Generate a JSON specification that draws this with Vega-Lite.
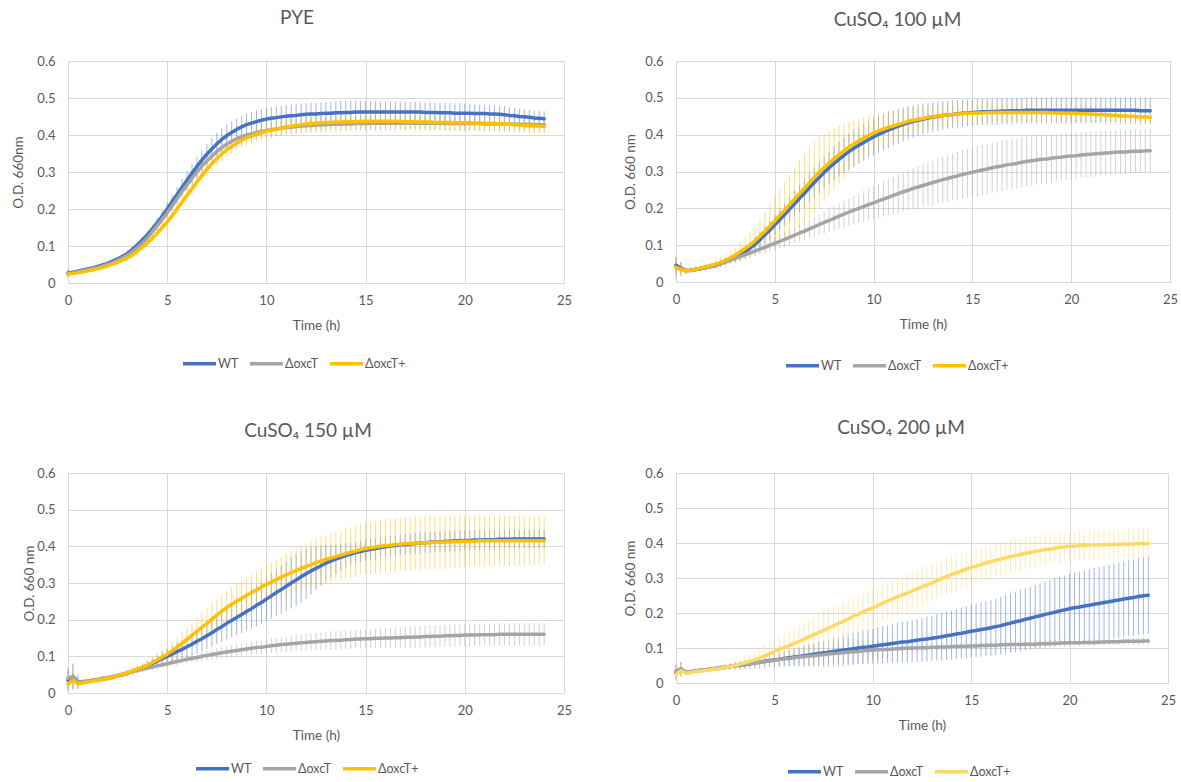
{
"$schema": "https://vega.github.io/schema/vega-lite/v6.json",
"background": "white",
"padding": {"left": 10, "top": 8, "right": 2, "bottom": 2},
"config": {
 "font": "Lato",
 "view": {"stroke": "#D9D9D9", "strokeWidth": 1},
 "axis": {"grid": true, "gridColor": "#D9D9D9", "gridWidth": 1, "domain": false, "ticks": false, "tickSize": 0, "labelColor": "#595959", "labelFontSize": 13, "labelFont": "Lato", "titleColor": "#595959", "titleFont": "Lato", "titleFontSize": 13.5, "titleFontWeight": "normal", "labelFlush": false, "labelPadding": 13},
 "axisX": {"titlePadding": 11, "labelPadding": 11},
 "axisY": {"titlePadding": 7.5},
 "title": {"font": "Lato", "fontSize": 19, "fontWeight": "normal", "color": "#595959"},
 "legend": {"labelFont": "Lato", "labelFontSize": 12.5, "labelColor": "#595959", "symbolType": "stroke", "symbolStrokeWidth": 3.5, "symbolSize": 1089, "labelOffset": 0, "columnPadding": 4, "symbolOpacity": 1, "direction": "horizontal", "orient": "none"}
},
"datasets": {
"pye": [
{"s":"WT","t":0,"y":0.027,"e":0.01},{"s":"WT","t":0.25,"y":0.029,"e":0.005},{"s":"WT","t":0.5,"y":0.032,"e":0.005},{"s":"WT","t":0.75,"y":0.035,"e":0.005},
{"s":"WT","t":1,"y":0.038,"e":0.005},{"s":"WT","t":1.25,"y":0.041,"e":0.005},{"s":"WT","t":1.5,"y":0.045,"e":0.005},{"s":"WT","t":1.75,"y":0.049,"e":0.005},
{"s":"WT","t":2,"y":0.053,"e":0.005},{"s":"WT","t":2.25,"y":0.059,"e":0.005},{"s":"WT","t":2.5,"y":0.065,"e":0.005},{"s":"WT","t":2.75,"y":0.072,"e":0.006},
{"s":"WT","t":3,"y":0.08,"e":0.008},{"s":"WT","t":3.25,"y":0.091,"e":0.008},{"s":"WT","t":3.5,"y":0.103,"e":0.008},{"s":"WT","t":3.75,"y":0.116,"e":0.01},
{"s":"WT","t":4,"y":0.13,"e":0.012},{"s":"WT","t":4.25,"y":0.146,"e":0.012},{"s":"WT","t":4.5,"y":0.163,"e":0.014},{"s":"WT","t":4.75,"y":0.181,"e":0.015},
{"s":"WT","t":5,"y":0.2,"e":0.018},{"s":"WT","t":5.25,"y":0.22,"e":0.018},{"s":"WT","t":5.5,"y":0.239,"e":0.02},{"s":"WT","t":5.75,"y":0.259,"e":0.022},
{"s":"WT","t":6,"y":0.278,"e":0.024},{"s":"WT","t":6.25,"y":0.297,"e":0.025},{"s":"WT","t":6.5,"y":0.315,"e":0.026},{"s":"WT","t":6.75,"y":0.332,"e":0.027},
{"s":"WT","t":7,"y":0.348,"e":0.028},{"s":"WT","t":7.25,"y":0.362,"e":0.03},{"s":"WT","t":7.5,"y":0.376,"e":0.03},{"s":"WT","t":7.75,"y":0.388,"e":0.03},
{"s":"WT","t":8,"y":0.398,"e":0.03},{"s":"WT","t":8.25,"y":0.407,"e":0.03},{"s":"WT","t":8.5,"y":0.415,"e":0.03},{"s":"WT","t":8.75,"y":0.422,"e":0.03},
{"s":"WT","t":9,"y":0.428,"e":0.03},{"s":"WT","t":9.25,"y":0.432,"e":0.03},{"s":"WT","t":9.5,"y":0.436,"e":0.03},{"s":"WT","t":9.75,"y":0.44,"e":0.03},
{"s":"WT","t":10,"y":0.443,"e":0.03},{"s":"WT","t":10.25,"y":0.445,"e":0.03},{"s":"WT","t":10.5,"y":0.447,"e":0.03},{"s":"WT","t":10.75,"y":0.449,"e":0.03},
{"s":"WT","t":11,"y":0.451,"e":0.03},{"s":"WT","t":11.25,"y":0.452,"e":0.03},{"s":"WT","t":11.5,"y":0.453,"e":0.03},{"s":"WT","t":11.75,"y":0.455,"e":0.03},
{"s":"WT","t":12,"y":0.456,"e":0.03},{"s":"WT","t":12.25,"y":0.457,"e":0.03},{"s":"WT","t":12.5,"y":0.457,"e":0.03},{"s":"WT","t":12.75,"y":0.458,"e":0.03},
{"s":"WT","t":13,"y":0.459,"e":0.03},{"s":"WT","t":13.25,"y":0.459,"e":0.031},{"s":"WT","t":13.5,"y":0.46,"e":0.031},{"s":"WT","t":13.75,"y":0.46,"e":0.032},
{"s":"WT","t":14,"y":0.461,"e":0.032},{"s":"WT","t":14.25,"y":0.461,"e":0.031},{"s":"WT","t":14.5,"y":0.462,"e":0.031},{"s":"WT","t":14.75,"y":0.462,"e":0.03},
{"s":"WT","t":15,"y":0.462,"e":0.03},{"s":"WT","t":15.25,"y":0.462,"e":0.029},{"s":"WT","t":15.5,"y":0.462,"e":0.029},{"s":"WT","t":15.75,"y":0.462,"e":0.028},
{"s":"WT","t":16,"y":0.462,"e":0.028},{"s":"WT","t":16.25,"y":0.462,"e":0.028},{"s":"WT","t":16.5,"y":0.462,"e":0.028},{"s":"WT","t":16.75,"y":0.462,"e":0.028},
{"s":"WT","t":17,"y":0.462,"e":0.028},{"s":"WT","t":17.25,"y":0.462,"e":0.027},{"s":"WT","t":17.5,"y":0.462,"e":0.027},{"s":"WT","t":17.75,"y":0.462,"e":0.027},
{"s":"WT","t":18,"y":0.461,"e":0.027},{"s":"WT","t":18.25,"y":0.461,"e":0.027},{"s":"WT","t":18.5,"y":0.461,"e":0.027},{"s":"WT","t":18.75,"y":0.46,"e":0.027},
{"s":"WT","t":19,"y":0.46,"e":0.027},{"s":"WT","t":19.25,"y":0.46,"e":0.027},{"s":"WT","t":19.5,"y":0.459,"e":0.027},{"s":"WT","t":19.75,"y":0.459,"e":0.027},
{"s":"WT","t":20,"y":0.459,"e":0.026},{"s":"WT","t":20.25,"y":0.459,"e":0.025},{"s":"WT","t":20.5,"y":0.458,"e":0.025},{"s":"WT","t":20.75,"y":0.458,"e":0.024},
{"s":"WT","t":21,"y":0.458,"e":0.024},{"s":"WT","t":21.25,"y":0.457,"e":0.024},{"s":"WT","t":21.5,"y":0.457,"e":0.024},{"s":"WT","t":21.75,"y":0.456,"e":0.023},
{"s":"WT","t":22,"y":0.455,"e":0.023},{"s":"WT","t":22.25,"y":0.453,"e":0.022},{"s":"WT","t":22.5,"y":0.452,"e":0.021},{"s":"WT","t":22.75,"y":0.45,"e":0.021},
{"s":"WT","t":23,"y":0.449,"e":0.02},{"s":"WT","t":23.25,"y":0.448,"e":0.02},{"s":"WT","t":23.5,"y":0.446,"e":0.02},{"s":"WT","t":23.75,"y":0.445,"e":0.02},
{"s":"WT","t":24,"y":0.444,"e":0.02},
{"s":"ΔoxcT","t":0,"y":0.025,"e":0.01},{"s":"ΔoxcT","t":0.25,"y":0.027,"e":0.005},{"s":"ΔoxcT","t":0.5,"y":0.03,"e":0.005},{"s":"ΔoxcT","t":0.75,"y":0.033,"e":0.005},
{"s":"ΔoxcT","t":1,"y":0.036,"e":0.005},{"s":"ΔoxcT","t":1.25,"y":0.039,"e":0.005},{"s":"ΔoxcT","t":1.5,"y":0.042,"e":0.005},{"s":"ΔoxcT","t":1.75,"y":0.046,"e":0.005},
{"s":"ΔoxcT","t":2,"y":0.05,"e":0.005},{"s":"ΔoxcT","t":2.25,"y":0.055,"e":0.005},{"s":"ΔoxcT","t":2.5,"y":0.061,"e":0.005},{"s":"ΔoxcT","t":2.75,"y":0.068,"e":0.005},
{"s":"ΔoxcT","t":3,"y":0.075,"e":0.005},{"s":"ΔoxcT","t":3.25,"y":0.085,"e":0.008},{"s":"ΔoxcT","t":3.5,"y":0.096,"e":0.008},{"s":"ΔoxcT","t":3.75,"y":0.108,"e":0.009},
{"s":"ΔoxcT","t":4,"y":0.122,"e":0.01},{"s":"ΔoxcT","t":4.25,"y":0.138,"e":0.01},{"s":"ΔoxcT","t":4.5,"y":0.155,"e":0.011},{"s":"ΔoxcT","t":4.75,"y":0.172,"e":0.012},
{"s":"ΔoxcT","t":5,"y":0.19,"e":0.013},{"s":"ΔoxcT","t":5.25,"y":0.209,"e":0.014},{"s":"ΔoxcT","t":5.5,"y":0.228,"e":0.015},{"s":"ΔoxcT","t":5.75,"y":0.247,"e":0.015},
{"s":"ΔoxcT","t":6,"y":0.265,"e":0.016},{"s":"ΔoxcT","t":6.25,"y":0.283,"e":0.016},{"s":"ΔoxcT","t":6.5,"y":0.3,"e":0.017},{"s":"ΔoxcT","t":6.75,"y":0.316,"e":0.017},
{"s":"ΔoxcT","t":7,"y":0.33,"e":0.018},{"s":"ΔoxcT","t":7.25,"y":0.343,"e":0.018},{"s":"ΔoxcT","t":7.5,"y":0.355,"e":0.019},{"s":"ΔoxcT","t":7.75,"y":0.366,"e":0.019},
{"s":"ΔoxcT","t":8,"y":0.375,"e":0.02},{"s":"ΔoxcT","t":8.25,"y":0.383,"e":0.02},{"s":"ΔoxcT","t":8.5,"y":0.39,"e":0.02},{"s":"ΔoxcT","t":8.75,"y":0.395,"e":0.02},
{"s":"ΔoxcT","t":9,"y":0.4,"e":0.02},{"s":"ΔoxcT","t":9.25,"y":0.403,"e":0.02},{"s":"ΔoxcT","t":9.5,"y":0.407,"e":0.02},{"s":"ΔoxcT","t":9.75,"y":0.41,"e":0.02},
{"s":"ΔoxcT","t":10,"y":0.412,"e":0.02},{"s":"ΔoxcT","t":10.25,"y":0.414,"e":0.02},{"s":"ΔoxcT","t":10.5,"y":0.416,"e":0.02},{"s":"ΔoxcT","t":10.75,"y":0.418,"e":0.02},
{"s":"ΔoxcT","t":11,"y":0.42,"e":0.02},{"s":"ΔoxcT","t":11.25,"y":0.421,"e":0.02},{"s":"ΔoxcT","t":11.5,"y":0.423,"e":0.02},{"s":"ΔoxcT","t":11.75,"y":0.424,"e":0.02},
{"s":"ΔoxcT","t":12,"y":0.425,"e":0.02},{"s":"ΔoxcT","t":12.25,"y":0.426,"e":0.02},{"s":"ΔoxcT","t":12.5,"y":0.427,"e":0.02},{"s":"ΔoxcT","t":12.75,"y":0.427,"e":0.02},
{"s":"ΔoxcT","t":13,"y":0.428,"e":0.02},{"s":"ΔoxcT","t":13.25,"y":0.429,"e":0.02},{"s":"ΔoxcT","t":13.5,"y":0.429,"e":0.02},{"s":"ΔoxcT","t":13.75,"y":0.43,"e":0.02},
{"s":"ΔoxcT","t":14,"y":0.43,"e":0.02},{"s":"ΔoxcT","t":14.25,"y":0.43,"e":0.02},{"s":"ΔoxcT","t":14.5,"y":0.431,"e":0.02},{"s":"ΔoxcT","t":14.75,"y":0.431,"e":0.02},
{"s":"ΔoxcT","t":15,"y":0.431,"e":0.02},{"s":"ΔoxcT","t":15.25,"y":0.431,"e":0.02},{"s":"ΔoxcT","t":15.5,"y":0.432,"e":0.02},{"s":"ΔoxcT","t":15.75,"y":0.432,"e":0.02},
{"s":"ΔoxcT","t":16,"y":0.432,"e":0.02},{"s":"ΔoxcT","t":16.25,"y":0.432,"e":0.02},{"s":"ΔoxcT","t":16.5,"y":0.432,"e":0.02},{"s":"ΔoxcT","t":16.75,"y":0.432,"e":0.02},
{"s":"ΔoxcT","t":17,"y":0.432,"e":0.02},{"s":"ΔoxcT","t":17.25,"y":0.432,"e":0.02},{"s":"ΔoxcT","t":17.5,"y":0.432,"e":0.02},{"s":"ΔoxcT","t":17.75,"y":0.432,"e":0.02},
{"s":"ΔoxcT","t":18,"y":0.432,"e":0.02},{"s":"ΔoxcT","t":18.25,"y":0.432,"e":0.02},{"s":"ΔoxcT","t":18.5,"y":0.432,"e":0.02},{"s":"ΔoxcT","t":18.75,"y":0.432,"e":0.02},
{"s":"ΔoxcT","t":19,"y":0.431,"e":0.02},{"s":"ΔoxcT","t":19.25,"y":0.431,"e":0.02},{"s":"ΔoxcT","t":19.5,"y":0.431,"e":0.02},{"s":"ΔoxcT","t":19.75,"y":0.431,"e":0.02},
{"s":"ΔoxcT","t":20,"y":0.431,"e":0.02},{"s":"ΔoxcT","t":20.25,"y":0.431,"e":0.02},{"s":"ΔoxcT","t":20.5,"y":0.431,"e":0.02},{"s":"ΔoxcT","t":20.75,"y":0.431,"e":0.02},
{"s":"ΔoxcT","t":21,"y":0.43,"e":0.02},{"s":"ΔoxcT","t":21.25,"y":0.43,"e":0.02},{"s":"ΔoxcT","t":21.5,"y":0.43,"e":0.02},{"s":"ΔoxcT","t":21.75,"y":0.43,"e":0.02},
{"s":"ΔoxcT","t":22,"y":0.43,"e":0.02},{"s":"ΔoxcT","t":22.25,"y":0.43,"e":0.02},{"s":"ΔoxcT","t":22.5,"y":0.43,"e":0.02},{"s":"ΔoxcT","t":22.75,"y":0.429,"e":0.02},
{"s":"ΔoxcT","t":23,"y":0.429,"e":0.02},{"s":"ΔoxcT","t":23.25,"y":0.429,"e":0.02},{"s":"ΔoxcT","t":23.5,"y":0.428,"e":0.02},{"s":"ΔoxcT","t":23.75,"y":0.428,"e":0.02},
{"s":"ΔoxcT","t":24,"y":0.428,"e":0.02},
{"s":"ΔoxcT+","t":0,"y":0.024,"e":0.012},{"s":"ΔoxcT+","t":0.25,"y":0.026,"e":0.005},{"s":"ΔoxcT+","t":0.5,"y":0.028,"e":0.005},{"s":"ΔoxcT+","t":0.75,"y":0.03,"e":0.005},
{"s":"ΔoxcT+","t":1,"y":0.033,"e":0.005},{"s":"ΔoxcT+","t":1.25,"y":0.036,"e":0.005},{"s":"ΔoxcT+","t":1.5,"y":0.039,"e":0.005},{"s":"ΔoxcT+","t":1.75,"y":0.042,"e":0.005},
{"s":"ΔoxcT+","t":2,"y":0.046,"e":0.005},{"s":"ΔoxcT+","t":2.25,"y":0.051,"e":0.005},{"s":"ΔoxcT+","t":2.5,"y":0.056,"e":0.005},{"s":"ΔoxcT+","t":2.75,"y":0.062,"e":0.005},
{"s":"ΔoxcT+","t":3,"y":0.068,"e":0.005},{"s":"ΔoxcT+","t":3.25,"y":0.076,"e":0.008},{"s":"ΔoxcT+","t":3.5,"y":0.086,"e":0.008},{"s":"ΔoxcT+","t":3.75,"y":0.097,"e":0.009},
{"s":"ΔoxcT+","t":4,"y":0.108,"e":0.01},{"s":"ΔoxcT+","t":4.25,"y":0.121,"e":0.01},{"s":"ΔoxcT+","t":4.5,"y":0.135,"e":0.011},{"s":"ΔoxcT+","t":4.75,"y":0.15,"e":0.012},
{"s":"ΔoxcT+","t":5,"y":0.165,"e":0.013},{"s":"ΔoxcT+","t":5.25,"y":0.182,"e":0.014},{"s":"ΔoxcT+","t":5.5,"y":0.2,"e":0.015},{"s":"ΔoxcT+","t":5.75,"y":0.219,"e":0.016},
{"s":"ΔoxcT+","t":6,"y":0.237,"e":0.016},{"s":"ΔoxcT+","t":6.25,"y":0.255,"e":0.017},{"s":"ΔoxcT+","t":6.5,"y":0.273,"e":0.017},{"s":"ΔoxcT+","t":6.75,"y":0.29,"e":0.018},
{"s":"ΔoxcT+","t":7,"y":0.307,"e":0.018},{"s":"ΔoxcT+","t":7.25,"y":0.322,"e":0.019},{"s":"ΔoxcT+","t":7.5,"y":0.336,"e":0.019},{"s":"ΔoxcT+","t":7.75,"y":0.349,"e":0.02},
{"s":"ΔoxcT+","t":8,"y":0.36,"e":0.02},{"s":"ΔoxcT+","t":8.25,"y":0.369,"e":0.02},{"s":"ΔoxcT+","t":8.5,"y":0.378,"e":0.02},{"s":"ΔoxcT+","t":8.75,"y":0.386,"e":0.02},
{"s":"ΔoxcT+","t":9,"y":0.392,"e":0.02},{"s":"ΔoxcT+","t":9.25,"y":0.397,"e":0.02},{"s":"ΔoxcT+","t":9.5,"y":0.402,"e":0.02},{"s":"ΔoxcT+","t":9.75,"y":0.406,"e":0.02},
{"s":"ΔoxcT+","t":10,"y":0.41,"e":0.02},{"s":"ΔoxcT+","t":10.25,"y":0.413,"e":0.02},{"s":"ΔoxcT+","t":10.5,"y":0.416,"e":0.02},{"s":"ΔoxcT+","t":10.75,"y":0.419,"e":0.02},
{"s":"ΔoxcT+","t":11,"y":0.422,"e":0.02},{"s":"ΔoxcT+","t":11.25,"y":0.424,"e":0.02},{"s":"ΔoxcT+","t":11.5,"y":0.426,"e":0.02},{"s":"ΔoxcT+","t":11.75,"y":0.428,"e":0.02},
{"s":"ΔoxcT+","t":12,"y":0.43,"e":0.02},{"s":"ΔoxcT+","t":12.25,"y":0.431,"e":0.02},{"s":"ΔoxcT+","t":12.5,"y":0.432,"e":0.02},{"s":"ΔoxcT+","t":12.75,"y":0.433,"e":0.02},
{"s":"ΔoxcT+","t":13,"y":0.434,"e":0.02},{"s":"ΔoxcT+","t":13.25,"y":0.434,"e":0.02},{"s":"ΔoxcT+","t":13.5,"y":0.435,"e":0.02},{"s":"ΔoxcT+","t":13.75,"y":0.435,"e":0.02},
{"s":"ΔoxcT+","t":14,"y":0.436,"e":0.02},{"s":"ΔoxcT+","t":14.25,"y":0.436,"e":0.02},{"s":"ΔoxcT+","t":14.5,"y":0.436,"e":0.02},{"s":"ΔoxcT+","t":14.75,"y":0.437,"e":0.02},
{"s":"ΔoxcT+","t":15,"y":0.437,"e":0.02},{"s":"ΔoxcT+","t":15.25,"y":0.437,"e":0.02},{"s":"ΔoxcT+","t":15.5,"y":0.437,"e":0.02},{"s":"ΔoxcT+","t":15.75,"y":0.437,"e":0.02},
{"s":"ΔoxcT+","t":16,"y":0.437,"e":0.02},{"s":"ΔoxcT+","t":16.25,"y":0.437,"e":0.02},{"s":"ΔoxcT+","t":16.5,"y":0.437,"e":0.02},{"s":"ΔoxcT+","t":16.75,"y":0.437,"e":0.02},
{"s":"ΔoxcT+","t":17,"y":0.436,"e":0.02},{"s":"ΔoxcT+","t":17.25,"y":0.436,"e":0.02},{"s":"ΔoxcT+","t":17.5,"y":0.436,"e":0.02},{"s":"ΔoxcT+","t":17.75,"y":0.435,"e":0.02},
{"s":"ΔoxcT+","t":18,"y":0.435,"e":0.021},{"s":"ΔoxcT+","t":18.25,"y":0.435,"e":0.021},{"s":"ΔoxcT+","t":18.5,"y":0.434,"e":0.021},{"s":"ΔoxcT+","t":18.75,"y":0.434,"e":0.021},
{"s":"ΔoxcT+","t":19,"y":0.434,"e":0.022},{"s":"ΔoxcT+","t":19.25,"y":0.434,"e":0.022},{"s":"ΔoxcT+","t":19.5,"y":0.433,"e":0.022},{"s":"ΔoxcT+","t":19.75,"y":0.433,"e":0.022},
{"s":"ΔoxcT+","t":20,"y":0.433,"e":0.022},{"s":"ΔoxcT+","t":20.25,"y":0.433,"e":0.022},{"s":"ΔoxcT+","t":20.5,"y":0.432,"e":0.022},{"s":"ΔoxcT+","t":20.75,"y":0.432,"e":0.022},
{"s":"ΔoxcT+","t":21,"y":0.432,"e":0.021},{"s":"ΔoxcT+","t":21.25,"y":0.431,"e":0.021},{"s":"ΔoxcT+","t":21.5,"y":0.431,"e":0.021},{"s":"ΔoxcT+","t":21.75,"y":0.43,"e":0.021},
{"s":"ΔoxcT+","t":22,"y":0.43,"e":0.02},{"s":"ΔoxcT+","t":22.25,"y":0.429,"e":0.02},{"s":"ΔoxcT+","t":22.5,"y":0.428,"e":0.02},{"s":"ΔoxcT+","t":22.75,"y":0.427,"e":0.02},
{"s":"ΔoxcT+","t":23,"y":0.426,"e":0.02},{"s":"ΔoxcT+","t":23.25,"y":0.425,"e":0.02},{"s":"ΔoxcT+","t":23.5,"y":0.424,"e":0.02},{"s":"ΔoxcT+","t":23.75,"y":0.424,"e":0.02},
{"s":"ΔoxcT+","t":24,"y":0.423,"e":0.02}
],
"c100": [
{"s":"WT","t":0,"y":0.045,"e":0.02},{"s":"WT","t":0.25,"y":0.038,"e":0.015},{"s":"WT","t":0.5,"y":0.031,"e":0.005},{"s":"WT","t":0.75,"y":0.032,"e":0.005},
{"s":"WT","t":1,"y":0.034,"e":0.005},{"s":"WT","t":1.25,"y":0.036,"e":0.005},{"s":"WT","t":1.5,"y":0.039,"e":0.005},{"s":"WT","t":1.75,"y":0.042,"e":0.005},
{"s":"WT","t":2,"y":0.045,"e":0.008},{"s":"WT","t":2.25,"y":0.05,"e":0.009},{"s":"WT","t":2.5,"y":0.055,"e":0.01},{"s":"WT","t":2.75,"y":0.06,"e":0.01},
{"s":"WT","t":3,"y":0.066,"e":0.012},{"s":"WT","t":3.25,"y":0.074,"e":0.013},{"s":"WT","t":3.5,"y":0.083,"e":0.014},{"s":"WT","t":3.75,"y":0.092,"e":0.015},
{"s":"WT","t":4,"y":0.102,"e":0.018},{"s":"WT","t":4.25,"y":0.115,"e":0.02},{"s":"WT","t":4.5,"y":0.128,"e":0.022},{"s":"WT","t":4.75,"y":0.141,"e":0.024},
{"s":"WT","t":5,"y":0.155,"e":0.026},{"s":"WT","t":5.25,"y":0.169,"e":0.028},{"s":"WT","t":5.5,"y":0.183,"e":0.03},{"s":"WT","t":5.75,"y":0.198,"e":0.032},
{"s":"WT","t":6,"y":0.212,"e":0.035},{"s":"WT","t":6.25,"y":0.227,"e":0.037},{"s":"WT","t":6.5,"y":0.241,"e":0.04},{"s":"WT","t":6.75,"y":0.256,"e":0.04},
{"s":"WT","t":7,"y":0.27,"e":0.042},{"s":"WT","t":7.25,"y":0.284,"e":0.043},{"s":"WT","t":7.5,"y":0.297,"e":0.044},{"s":"WT","t":7.75,"y":0.31,"e":0.045},
{"s":"WT","t":8,"y":0.322,"e":0.046},{"s":"WT","t":8.25,"y":0.333,"e":0.047},{"s":"WT","t":8.5,"y":0.344,"e":0.048},{"s":"WT","t":8.75,"y":0.354,"e":0.049},
{"s":"WT","t":9,"y":0.363,"e":0.05},{"s":"WT","t":9.25,"y":0.371,"e":0.05},{"s":"WT","t":9.5,"y":0.379,"e":0.05},{"s":"WT","t":9.75,"y":0.387,"e":0.05},
{"s":"WT","t":10,"y":0.394,"e":0.05},{"s":"WT","t":10.25,"y":0.401,"e":0.05},{"s":"WT","t":10.5,"y":0.407,"e":0.05},{"s":"WT","t":10.75,"y":0.413,"e":0.05},
{"s":"WT","t":11,"y":0.418,"e":0.048},{"s":"WT","t":11.25,"y":0.423,"e":0.047},{"s":"WT","t":11.5,"y":0.428,"e":0.046},{"s":"WT","t":11.75,"y":0.432,"e":0.045},
{"s":"WT","t":12,"y":0.436,"e":0.044},{"s":"WT","t":12.25,"y":0.439,"e":0.043},{"s":"WT","t":12.5,"y":0.442,"e":0.042},{"s":"WT","t":12.75,"y":0.445,"e":0.041},
{"s":"WT","t":13,"y":0.448,"e":0.04},{"s":"WT","t":13.25,"y":0.45,"e":0.04},{"s":"WT","t":13.5,"y":0.452,"e":0.039},{"s":"WT","t":13.75,"y":0.454,"e":0.038},
{"s":"WT","t":14,"y":0.455,"e":0.038},{"s":"WT","t":14.25,"y":0.457,"e":0.037},{"s":"WT","t":14.5,"y":0.458,"e":0.037},{"s":"WT","t":14.75,"y":0.459,"e":0.036},
{"s":"WT","t":15,"y":0.46,"e":0.036},{"s":"WT","t":15.25,"y":0.461,"e":0.036},{"s":"WT","t":15.5,"y":0.462,"e":0.036},{"s":"WT","t":15.75,"y":0.462,"e":0.036},
{"s":"WT","t":16,"y":0.463,"e":0.036},{"s":"WT","t":16.25,"y":0.463,"e":0.036},{"s":"WT","t":16.5,"y":0.464,"e":0.036},{"s":"WT","t":16.75,"y":0.464,"e":0.036},
{"s":"WT","t":17,"y":0.465,"e":0.035},{"s":"WT","t":17.25,"y":0.465,"e":0.035},{"s":"WT","t":17.5,"y":0.465,"e":0.035},{"s":"WT","t":17.75,"y":0.466,"e":0.035},
{"s":"WT","t":18,"y":0.466,"e":0.035},{"s":"WT","t":18.25,"y":0.466,"e":0.035},{"s":"WT","t":18.5,"y":0.466,"e":0.035},{"s":"WT","t":18.75,"y":0.466,"e":0.035},
{"s":"WT","t":19,"y":0.466,"e":0.035},{"s":"WT","t":19.25,"y":0.466,"e":0.035},{"s":"WT","t":19.5,"y":0.466,"e":0.035},{"s":"WT","t":19.75,"y":0.466,"e":0.035},
{"s":"WT","t":20,"y":0.466,"e":0.035},{"s":"WT","t":20.25,"y":0.466,"e":0.035},{"s":"WT","t":20.5,"y":0.466,"e":0.035},{"s":"WT","t":20.75,"y":0.466,"e":0.035},
{"s":"WT","t":21,"y":0.466,"e":0.035},{"s":"WT","t":21.25,"y":0.466,"e":0.035},{"s":"WT","t":21.5,"y":0.466,"e":0.035},{"s":"WT","t":21.75,"y":0.466,"e":0.035},
{"s":"WT","t":22,"y":0.466,"e":0.035},{"s":"WT","t":22.25,"y":0.466,"e":0.035},{"s":"WT","t":22.5,"y":0.466,"e":0.035},{"s":"WT","t":22.75,"y":0.466,"e":0.035},
{"s":"WT","t":23,"y":0.466,"e":0.035},{"s":"WT","t":23.25,"y":0.466,"e":0.035},{"s":"WT","t":23.5,"y":0.465,"e":0.035},{"s":"WT","t":23.75,"y":0.465,"e":0.035},
{"s":"WT","t":24,"y":0.465,"e":0.035},
{"s":"ΔoxcT","t":0,"y":0.04,"e":0.03},{"s":"ΔoxcT","t":0.25,"y":0.035,"e":0.02},{"s":"ΔoxcT","t":0.5,"y":0.03,"e":0.008},{"s":"ΔoxcT","t":0.75,"y":0.032,"e":0.008},
{"s":"ΔoxcT","t":1,"y":0.034,"e":0.008},{"s":"ΔoxcT","t":1.25,"y":0.037,"e":0.008},{"s":"ΔoxcT","t":1.5,"y":0.04,"e":0.008},{"s":"ΔoxcT","t":1.75,"y":0.043,"e":0.008},
{"s":"ΔoxcT","t":2,"y":0.047,"e":0.008},{"s":"ΔoxcT","t":2.25,"y":0.051,"e":0.008},{"s":"ΔoxcT","t":2.5,"y":0.055,"e":0.008},{"s":"ΔoxcT","t":2.75,"y":0.06,"e":0.008},
{"s":"ΔoxcT","t":3,"y":0.064,"e":0.01},{"s":"ΔoxcT","t":3.25,"y":0.069,"e":0.011},{"s":"ΔoxcT","t":3.5,"y":0.074,"e":0.012},{"s":"ΔoxcT","t":3.75,"y":0.079,"e":0.013},
{"s":"ΔoxcT","t":4,"y":0.084,"e":0.014},{"s":"ΔoxcT","t":4.25,"y":0.089,"e":0.015},{"s":"ΔoxcT","t":4.5,"y":0.094,"e":0.016},{"s":"ΔoxcT","t":4.75,"y":0.1,"e":0.017},
{"s":"ΔoxcT","t":5,"y":0.105,"e":0.018},{"s":"ΔoxcT","t":5.25,"y":0.11,"e":0.019},{"s":"ΔoxcT","t":5.5,"y":0.116,"e":0.02},{"s":"ΔoxcT","t":5.75,"y":0.121,"e":0.021},
{"s":"ΔoxcT","t":6,"y":0.127,"e":0.022},{"s":"ΔoxcT","t":6.25,"y":0.133,"e":0.023},{"s":"ΔoxcT","t":6.5,"y":0.138,"e":0.024},{"s":"ΔoxcT","t":6.75,"y":0.144,"e":0.025},
{"s":"ΔoxcT","t":7,"y":0.15,"e":0.027},{"s":"ΔoxcT","t":7.25,"y":0.156,"e":0.028},{"s":"ΔoxcT","t":7.5,"y":0.162,"e":0.03},{"s":"ΔoxcT","t":7.75,"y":0.167,"e":0.031},
{"s":"ΔoxcT","t":8,"y":0.173,"e":0.033},{"s":"ΔoxcT","t":8.25,"y":0.179,"e":0.034},{"s":"ΔoxcT","t":8.5,"y":0.184,"e":0.036},{"s":"ΔoxcT","t":8.75,"y":0.19,"e":0.037},
{"s":"ΔoxcT","t":9,"y":0.195,"e":0.039},{"s":"ΔoxcT","t":9.25,"y":0.2,"e":0.04},{"s":"ΔoxcT","t":9.5,"y":0.205,"e":0.042},{"s":"ΔoxcT","t":9.75,"y":0.21,"e":0.043},
{"s":"ΔoxcT","t":10,"y":0.215,"e":0.045},{"s":"ΔoxcT","t":10.25,"y":0.22,"e":0.046},{"s":"ΔoxcT","t":10.5,"y":0.225,"e":0.048},{"s":"ΔoxcT","t":10.75,"y":0.23,"e":0.049},
{"s":"ΔoxcT","t":11,"y":0.235,"e":0.05},{"s":"ΔoxcT","t":11.25,"y":0.24,"e":0.052},{"s":"ΔoxcT","t":11.5,"y":0.245,"e":0.053},{"s":"ΔoxcT","t":11.75,"y":0.249,"e":0.054},
{"s":"ΔoxcT","t":12,"y":0.254,"e":0.055},{"s":"ΔoxcT","t":12.25,"y":0.258,"e":0.057},{"s":"ΔoxcT","t":12.5,"y":0.262,"e":0.058},{"s":"ΔoxcT","t":12.75,"y":0.266,"e":0.059},
{"s":"ΔoxcT","t":13,"y":0.27,"e":0.06},{"s":"ΔoxcT","t":13.25,"y":0.274,"e":0.061},{"s":"ΔoxcT","t":13.5,"y":0.278,"e":0.062},{"s":"ΔoxcT","t":13.75,"y":0.281,"e":0.063},
{"s":"ΔoxcT","t":14,"y":0.285,"e":0.064},{"s":"ΔoxcT","t":14.25,"y":0.288,"e":0.065},{"s":"ΔoxcT","t":14.5,"y":0.292,"e":0.066},{"s":"ΔoxcT","t":14.75,"y":0.295,"e":0.067},
{"s":"ΔoxcT","t":15,"y":0.298,"e":0.068},{"s":"ΔoxcT","t":15.25,"y":0.301,"e":0.068},{"s":"ΔoxcT","t":15.5,"y":0.304,"e":0.068},{"s":"ΔoxcT","t":15.75,"y":0.307,"e":0.068},
{"s":"ΔoxcT","t":16,"y":0.31,"e":0.068},{"s":"ΔoxcT","t":16.25,"y":0.313,"e":0.068},{"s":"ΔoxcT","t":16.5,"y":0.315,"e":0.068},{"s":"ΔoxcT","t":16.75,"y":0.318,"e":0.068},
{"s":"ΔoxcT","t":17,"y":0.32,"e":0.068},{"s":"ΔoxcT","t":17.25,"y":0.322,"e":0.068},{"s":"ΔoxcT","t":17.5,"y":0.325,"e":0.068},{"s":"ΔoxcT","t":17.75,"y":0.327,"e":0.068},
{"s":"ΔoxcT","t":18,"y":0.329,"e":0.067},{"s":"ΔoxcT","t":18.25,"y":0.331,"e":0.067},{"s":"ΔoxcT","t":18.5,"y":0.333,"e":0.066},{"s":"ΔoxcT","t":18.75,"y":0.334,"e":0.066},
{"s":"ΔoxcT","t":19,"y":0.336,"e":0.065},{"s":"ΔoxcT","t":19.25,"y":0.338,"e":0.065},{"s":"ΔoxcT","t":19.5,"y":0.339,"e":0.064},{"s":"ΔoxcT","t":19.75,"y":0.341,"e":0.064},
{"s":"ΔoxcT","t":20,"y":0.342,"e":0.063},{"s":"ΔoxcT","t":20.25,"y":0.343,"e":0.063},{"s":"ΔoxcT","t":20.5,"y":0.345,"e":0.062},{"s":"ΔoxcT","t":20.75,"y":0.346,"e":0.062},
{"s":"ΔoxcT","t":21,"y":0.347,"e":0.062},{"s":"ΔoxcT","t":21.25,"y":0.348,"e":0.061},{"s":"ΔoxcT","t":21.5,"y":0.349,"e":0.061},{"s":"ΔoxcT","t":21.75,"y":0.35,"e":0.061},
{"s":"ΔoxcT","t":22,"y":0.351,"e":0.06},{"s":"ΔoxcT","t":22.25,"y":0.352,"e":0.06},{"s":"ΔoxcT","t":22.5,"y":0.353,"e":0.06},{"s":"ΔoxcT","t":22.75,"y":0.353,"e":0.06},
{"s":"ΔoxcT","t":23,"y":0.354,"e":0.059},{"s":"ΔoxcT","t":23.25,"y":0.355,"e":0.059},{"s":"ΔoxcT","t":23.5,"y":0.355,"e":0.058},{"s":"ΔoxcT","t":23.75,"y":0.356,"e":0.058},
{"s":"ΔoxcT","t":24,"y":0.356,"e":0.058},
{"s":"ΔoxcT+","t":0,"y":0.04,"e":0.03},{"s":"ΔoxcT+","t":0.25,"y":0.035,"e":0.02},{"s":"ΔoxcT+","t":0.5,"y":0.03,"e":0.008},{"s":"ΔoxcT+","t":0.75,"y":0.032,"e":0.008},
{"s":"ΔoxcT+","t":1,"y":0.035,"e":0.008},{"s":"ΔoxcT+","t":1.25,"y":0.038,"e":0.008},{"s":"ΔoxcT+","t":1.5,"y":0.041,"e":0.008},{"s":"ΔoxcT+","t":1.75,"y":0.044,"e":0.009},
{"s":"ΔoxcT+","t":2,"y":0.048,"e":0.012},{"s":"ΔoxcT+","t":2.25,"y":0.053,"e":0.014},{"s":"ΔoxcT+","t":2.5,"y":0.059,"e":0.016},{"s":"ΔoxcT+","t":2.75,"y":0.066,"e":0.018},
{"s":"ΔoxcT+","t":3,"y":0.073,"e":0.022},{"s":"ΔoxcT+","t":3.25,"y":0.082,"e":0.026},{"s":"ΔoxcT+","t":3.5,"y":0.091,"e":0.03},{"s":"ΔoxcT+","t":3.75,"y":0.101,"e":0.035},
{"s":"ΔoxcT+","t":4,"y":0.112,"e":0.04},{"s":"ΔoxcT+","t":4.25,"y":0.125,"e":0.046},{"s":"ΔoxcT+","t":4.5,"y":0.138,"e":0.052},{"s":"ΔoxcT+","t":4.75,"y":0.152,"e":0.058},
{"s":"ΔoxcT+","t":5,"y":0.166,"e":0.064},{"s":"ΔoxcT+","t":5.25,"y":0.181,"e":0.07},{"s":"ΔoxcT+","t":5.5,"y":0.195,"e":0.076},{"s":"ΔoxcT+","t":5.75,"y":0.21,"e":0.082},
{"s":"ΔoxcT+","t":6,"y":0.225,"e":0.088},{"s":"ΔoxcT+","t":6.25,"y":0.24,"e":0.092},{"s":"ΔoxcT+","t":6.5,"y":0.254,"e":0.095},{"s":"ΔoxcT+","t":6.75,"y":0.269,"e":0.097},
{"s":"ΔoxcT+","t":7,"y":0.284,"e":0.097},{"s":"ΔoxcT+","t":7.25,"y":0.298,"e":0.095},{"s":"ΔoxcT+","t":7.5,"y":0.311,"e":0.092},{"s":"ΔoxcT+","t":7.75,"y":0.323,"e":0.088},
{"s":"ΔoxcT+","t":8,"y":0.335,"e":0.083},{"s":"ΔoxcT+","t":8.25,"y":0.346,"e":0.078},{"s":"ΔoxcT+","t":8.5,"y":0.356,"e":0.073},{"s":"ΔoxcT+","t":8.75,"y":0.366,"e":0.068},
{"s":"ΔoxcT+","t":9,"y":0.375,"e":0.064},{"s":"ΔoxcT+","t":9.25,"y":0.383,"e":0.06},{"s":"ΔoxcT+","t":9.5,"y":0.391,"e":0.056},{"s":"ΔoxcT+","t":9.75,"y":0.398,"e":0.053},
{"s":"ΔoxcT+","t":10,"y":0.404,"e":0.05},{"s":"ΔoxcT+","t":10.25,"y":0.41,"e":0.048},{"s":"ΔoxcT+","t":10.5,"y":0.415,"e":0.045},{"s":"ΔoxcT+","t":10.75,"y":0.42,"e":0.043},
{"s":"ΔoxcT+","t":11,"y":0.424,"e":0.04},{"s":"ΔoxcT+","t":11.25,"y":0.428,"e":0.038},{"s":"ΔoxcT+","t":11.5,"y":0.432,"e":0.036},{"s":"ΔoxcT+","t":11.75,"y":0.436,"e":0.035},
{"s":"ΔoxcT+","t":12,"y":0.439,"e":0.034},{"s":"ΔoxcT+","t":12.25,"y":0.442,"e":0.032},{"s":"ΔoxcT+","t":12.5,"y":0.444,"e":0.031},{"s":"ΔoxcT+","t":12.75,"y":0.447,"e":0.03},
{"s":"ΔoxcT+","t":13,"y":0.449,"e":0.029},{"s":"ΔoxcT+","t":13.25,"y":0.451,"e":0.028},{"s":"ΔoxcT+","t":13.5,"y":0.452,"e":0.027},{"s":"ΔoxcT+","t":13.75,"y":0.454,"e":0.026},
{"s":"ΔoxcT+","t":14,"y":0.455,"e":0.025},{"s":"ΔoxcT+","t":14.25,"y":0.456,"e":0.025},{"s":"ΔoxcT+","t":14.5,"y":0.457,"e":0.025},{"s":"ΔoxcT+","t":14.75,"y":0.458,"e":0.025},
{"s":"ΔoxcT+","t":15,"y":0.458,"e":0.025},{"s":"ΔoxcT+","t":15.25,"y":0.459,"e":0.025},{"s":"ΔoxcT+","t":15.5,"y":0.459,"e":0.025},{"s":"ΔoxcT+","t":15.75,"y":0.46,"e":0.025},
{"s":"ΔoxcT+","t":16,"y":0.46,"e":0.025},{"s":"ΔoxcT+","t":16.25,"y":0.46,"e":0.025},{"s":"ΔoxcT+","t":16.5,"y":0.46,"e":0.025},{"s":"ΔoxcT+","t":16.75,"y":0.46,"e":0.025},
{"s":"ΔoxcT+","t":17,"y":0.46,"e":0.025},{"s":"ΔoxcT+","t":17.25,"y":0.46,"e":0.025},{"s":"ΔoxcT+","t":17.5,"y":0.46,"e":0.025},{"s":"ΔoxcT+","t":17.75,"y":0.46,"e":0.025},
{"s":"ΔoxcT+","t":18,"y":0.46,"e":0.024},{"s":"ΔoxcT+","t":18.25,"y":0.46,"e":0.024},{"s":"ΔoxcT+","t":18.5,"y":0.46,"e":0.024},{"s":"ΔoxcT+","t":18.75,"y":0.46,"e":0.024},
{"s":"ΔoxcT+","t":19,"y":0.459,"e":0.024},{"s":"ΔoxcT+","t":19.25,"y":0.459,"e":0.024},{"s":"ΔoxcT+","t":19.5,"y":0.459,"e":0.024},{"s":"ΔoxcT+","t":19.75,"y":0.458,"e":0.024},
{"s":"ΔoxcT+","t":20,"y":0.458,"e":0.023},{"s":"ΔoxcT+","t":20.25,"y":0.458,"e":0.023},{"s":"ΔoxcT+","t":20.5,"y":0.457,"e":0.023},{"s":"ΔoxcT+","t":20.75,"y":0.457,"e":0.023},
{"s":"ΔoxcT+","t":21,"y":0.456,"e":0.022},{"s":"ΔoxcT+","t":21.25,"y":0.455,"e":0.022},{"s":"ΔoxcT+","t":21.5,"y":0.455,"e":0.022},{"s":"ΔoxcT+","t":21.75,"y":0.454,"e":0.022},
{"s":"ΔoxcT+","t":22,"y":0.453,"e":0.021},{"s":"ΔoxcT+","t":22.25,"y":0.452,"e":0.021},{"s":"ΔoxcT+","t":22.5,"y":0.451,"e":0.021},{"s":"ΔoxcT+","t":22.75,"y":0.451,"e":0.021},
{"s":"ΔoxcT+","t":23,"y":0.45,"e":0.02},{"s":"ΔoxcT+","t":23.25,"y":0.449,"e":0.02},{"s":"ΔoxcT+","t":23.5,"y":0.448,"e":0.02},{"s":"ΔoxcT+","t":23.75,"y":0.448,"e":0.02},
{"s":"ΔoxcT+","t":24,"y":0.447,"e":0.02}
],
"c150": [
{"s":"WT","t":0,"y":0.035,"e":0.03},{"s":"WT","t":0.25,"y":0.045,"e":0.035},{"s":"WT","t":0.5,"y":0.03,"e":0.02},{"s":"WT","t":0.75,"y":0.031,"e":0.006},
{"s":"WT","t":1,"y":0.032,"e":0.006},{"s":"WT","t":1.25,"y":0.034,"e":0.006},{"s":"WT","t":1.5,"y":0.036,"e":0.006},{"s":"WT","t":1.75,"y":0.038,"e":0.006},
{"s":"WT","t":2,"y":0.04,"e":0.006},{"s":"WT","t":2.25,"y":0.043,"e":0.006},{"s":"WT","t":2.5,"y":0.047,"e":0.006},{"s":"WT","t":2.75,"y":0.05,"e":0.006},
{"s":"WT","t":3,"y":0.054,"e":0.008},{"s":"WT","t":3.25,"y":0.059,"e":0.009},{"s":"WT","t":3.5,"y":0.064,"e":0.01},{"s":"WT","t":3.75,"y":0.069,"e":0.011},
{"s":"WT","t":4,"y":0.075,"e":0.012},{"s":"WT","t":4.25,"y":0.081,"e":0.014},{"s":"WT","t":4.5,"y":0.087,"e":0.016},{"s":"WT","t":4.75,"y":0.094,"e":0.018},
{"s":"WT","t":5,"y":0.1,"e":0.02},{"s":"WT","t":5.25,"y":0.106,"e":0.022},{"s":"WT","t":5.5,"y":0.113,"e":0.024},{"s":"WT","t":5.75,"y":0.119,"e":0.026},
{"s":"WT","t":6,"y":0.126,"e":0.028},{"s":"WT","t":6.25,"y":0.133,"e":0.03},{"s":"WT","t":6.5,"y":0.141,"e":0.032},{"s":"WT","t":6.75,"y":0.148,"e":0.034},
{"s":"WT","t":7,"y":0.156,"e":0.036},{"s":"WT","t":7.25,"y":0.164,"e":0.038},{"s":"WT","t":7.5,"y":0.173,"e":0.04},{"s":"WT","t":7.75,"y":0.181,"e":0.042},
{"s":"WT","t":8,"y":0.19,"e":0.044},{"s":"WT","t":8.25,"y":0.198,"e":0.046},{"s":"WT","t":8.5,"y":0.206,"e":0.048},{"s":"WT","t":8.75,"y":0.214,"e":0.05},
{"s":"WT","t":9,"y":0.222,"e":0.052},{"s":"WT","t":9.25,"y":0.23,"e":0.054},{"s":"WT","t":9.5,"y":0.239,"e":0.056},{"s":"WT","t":9.75,"y":0.247,"e":0.058},
{"s":"WT","t":10,"y":0.256,"e":0.06},{"s":"WT","t":10.25,"y":0.265,"e":0.062},{"s":"WT","t":10.5,"y":0.274,"e":0.064},{"s":"WT","t":10.75,"y":0.282,"e":0.066},
{"s":"WT","t":11,"y":0.291,"e":0.068},{"s":"WT","t":11.25,"y":0.3,"e":0.07},{"s":"WT","t":11.5,"y":0.308,"e":0.07},{"s":"WT","t":11.75,"y":0.317,"e":0.07},
{"s":"WT","t":12,"y":0.325,"e":0.068},{"s":"WT","t":12.25,"y":0.333,"e":0.065},{"s":"WT","t":12.5,"y":0.34,"e":0.06},{"s":"WT","t":12.75,"y":0.347,"e":0.055},
{"s":"WT","t":13,"y":0.354,"e":0.05},{"s":"WT","t":13.25,"y":0.36,"e":0.045},{"s":"WT","t":13.5,"y":0.365,"e":0.04},{"s":"WT","t":13.75,"y":0.37,"e":0.036},
{"s":"WT","t":14,"y":0.375,"e":0.033},{"s":"WT","t":14.25,"y":0.379,"e":0.03},{"s":"WT","t":14.5,"y":0.383,"e":0.028},{"s":"WT","t":14.75,"y":0.386,"e":0.028},
{"s":"WT","t":15,"y":0.389,"e":0.028},{"s":"WT","t":15.25,"y":0.392,"e":0.028},{"s":"WT","t":15.5,"y":0.394,"e":0.028},{"s":"WT","t":15.75,"y":0.397,"e":0.028},
{"s":"WT","t":16,"y":0.399,"e":0.028},{"s":"WT","t":16.25,"y":0.401,"e":0.028},{"s":"WT","t":16.5,"y":0.402,"e":0.028},{"s":"WT","t":16.75,"y":0.404,"e":0.028},
{"s":"WT","t":17,"y":0.405,"e":0.028},{"s":"WT","t":17.25,"y":0.406,"e":0.028},{"s":"WT","t":17.5,"y":0.408,"e":0.028},{"s":"WT","t":17.75,"y":0.409,"e":0.028},
{"s":"WT","t":18,"y":0.41,"e":0.028},{"s":"WT","t":18.25,"y":0.411,"e":0.028},{"s":"WT","t":18.5,"y":0.412,"e":0.028},{"s":"WT","t":18.75,"y":0.412,"e":0.028},
{"s":"WT","t":19,"y":0.413,"e":0.028},{"s":"WT","t":19.25,"y":0.414,"e":0.028},{"s":"WT","t":19.5,"y":0.415,"e":0.028},{"s":"WT","t":19.75,"y":0.415,"e":0.028},
{"s":"WT","t":20,"y":0.416,"e":0.028},{"s":"WT","t":20.25,"y":0.416,"e":0.028},{"s":"WT","t":20.5,"y":0.417,"e":0.028},{"s":"WT","t":20.75,"y":0.417,"e":0.028},
{"s":"WT","t":21,"y":0.418,"e":0.027},{"s":"WT","t":21.25,"y":0.418,"e":0.027},{"s":"WT","t":21.5,"y":0.418,"e":0.027},{"s":"WT","t":21.75,"y":0.419,"e":0.027},
{"s":"WT","t":22,"y":0.419,"e":0.026},{"s":"WT","t":22.25,"y":0.419,"e":0.026},{"s":"WT","t":22.5,"y":0.42,"e":0.026},{"s":"WT","t":22.75,"y":0.42,"e":0.026},
{"s":"WT","t":23,"y":0.42,"e":0.025},{"s":"WT","t":23.25,"y":0.42,"e":0.025},{"s":"WT","t":23.5,"y":0.42,"e":0.025},{"s":"WT","t":23.75,"y":0.42,"e":0.025},
{"s":"WT","t":24,"y":0.42,"e":0.025},
{"s":"ΔoxcT","t":0,"y":0.04,"e":0.03},{"s":"ΔoxcT","t":0.25,"y":0.045,"e":0.035},{"s":"ΔoxcT","t":0.5,"y":0.03,"e":0.015},{"s":"ΔoxcT","t":0.75,"y":0.031,"e":0.006},
{"s":"ΔoxcT","t":1,"y":0.033,"e":0.006},{"s":"ΔoxcT","t":1.25,"y":0.035,"e":0.006},{"s":"ΔoxcT","t":1.5,"y":0.037,"e":0.006},{"s":"ΔoxcT","t":1.75,"y":0.04,"e":0.006},
{"s":"ΔoxcT","t":2,"y":0.042,"e":0.006},{"s":"ΔoxcT","t":2.25,"y":0.045,"e":0.006},{"s":"ΔoxcT","t":2.5,"y":0.048,"e":0.006},{"s":"ΔoxcT","t":2.75,"y":0.052,"e":0.006},
{"s":"ΔoxcT","t":3,"y":0.055,"e":0.006},{"s":"ΔoxcT","t":3.25,"y":0.058,"e":0.006},{"s":"ΔoxcT","t":3.5,"y":0.062,"e":0.006},{"s":"ΔoxcT","t":3.75,"y":0.065,"e":0.006},
{"s":"ΔoxcT","t":4,"y":0.068,"e":0.007},{"s":"ΔoxcT","t":4.25,"y":0.071,"e":0.008},{"s":"ΔoxcT","t":4.5,"y":0.074,"e":0.009},{"s":"ΔoxcT","t":4.75,"y":0.077,"e":0.01},
{"s":"ΔoxcT","t":5,"y":0.08,"e":0.01},{"s":"ΔoxcT","t":5.25,"y":0.083,"e":0.01},{"s":"ΔoxcT","t":5.5,"y":0.086,"e":0.011},{"s":"ΔoxcT","t":5.75,"y":0.089,"e":0.011},
{"s":"ΔoxcT","t":6,"y":0.092,"e":0.012},{"s":"ΔoxcT","t":6.25,"y":0.095,"e":0.012},{"s":"ΔoxcT","t":6.5,"y":0.097,"e":0.013},{"s":"ΔoxcT","t":6.75,"y":0.1,"e":0.013},
{"s":"ΔoxcT","t":7,"y":0.102,"e":0.014},{"s":"ΔoxcT","t":7.25,"y":0.105,"e":0.014},{"s":"ΔoxcT","t":7.5,"y":0.107,"e":0.015},{"s":"ΔoxcT","t":7.75,"y":0.11,"e":0.015},
{"s":"ΔoxcT","t":8,"y":0.112,"e":0.015},{"s":"ΔoxcT","t":8.25,"y":0.114,"e":0.016},{"s":"ΔoxcT","t":8.5,"y":0.116,"e":0.016},{"s":"ΔoxcT","t":8.75,"y":0.118,"e":0.017},
{"s":"ΔoxcT","t":9,"y":0.12,"e":0.017},{"s":"ΔoxcT","t":9.25,"y":0.122,"e":0.018},{"s":"ΔoxcT","t":9.5,"y":0.124,"e":0.018},{"s":"ΔoxcT","t":9.75,"y":0.125,"e":0.019},
{"s":"ΔoxcT","t":10,"y":0.127,"e":0.019},{"s":"ΔoxcT","t":10.25,"y":0.129,"e":0.02},{"s":"ΔoxcT","t":10.5,"y":0.13,"e":0.02},{"s":"ΔoxcT","t":10.75,"y":0.132,"e":0.02},
{"s":"ΔoxcT","t":11,"y":0.133,"e":0.021},{"s":"ΔoxcT","t":11.25,"y":0.134,"e":0.021},{"s":"ΔoxcT","t":11.5,"y":0.136,"e":0.022},{"s":"ΔoxcT","t":11.75,"y":0.137,"e":0.022},
{"s":"ΔoxcT","t":12,"y":0.138,"e":0.023},{"s":"ΔoxcT","t":12.25,"y":0.139,"e":0.023},{"s":"ΔoxcT","t":12.5,"y":0.14,"e":0.024},{"s":"ΔoxcT","t":12.75,"y":0.141,"e":0.024},
{"s":"ΔoxcT","t":13,"y":0.142,"e":0.024},{"s":"ΔoxcT","t":13.25,"y":0.143,"e":0.025},{"s":"ΔoxcT","t":13.5,"y":0.143,"e":0.025},{"s":"ΔoxcT","t":13.75,"y":0.144,"e":0.025},
{"s":"ΔoxcT","t":14,"y":0.145,"e":0.025},{"s":"ΔoxcT","t":14.25,"y":0.146,"e":0.025},{"s":"ΔoxcT","t":14.5,"y":0.147,"e":0.026},{"s":"ΔoxcT","t":14.75,"y":0.147,"e":0.026},
{"s":"ΔoxcT","t":15,"y":0.148,"e":0.026},{"s":"ΔoxcT","t":15.25,"y":0.148,"e":0.026},{"s":"ΔoxcT","t":15.5,"y":0.149,"e":0.027},{"s":"ΔoxcT","t":15.75,"y":0.149,"e":0.027},
{"s":"ΔoxcT","t":16,"y":0.15,"e":0.027},{"s":"ΔoxcT","t":16.25,"y":0.15,"e":0.028},{"s":"ΔoxcT","t":16.5,"y":0.151,"e":0.028},{"s":"ΔoxcT","t":16.75,"y":0.151,"e":0.028},
{"s":"ΔoxcT","t":17,"y":0.152,"e":0.028},{"s":"ΔoxcT","t":17.25,"y":0.152,"e":0.029},{"s":"ΔoxcT","t":17.5,"y":0.153,"e":0.029},{"s":"ΔoxcT","t":17.75,"y":0.153,"e":0.029},
{"s":"ΔoxcT","t":18,"y":0.154,"e":0.029},{"s":"ΔoxcT","t":18.25,"y":0.154,"e":0.03},{"s":"ΔoxcT","t":18.5,"y":0.155,"e":0.03},{"s":"ΔoxcT","t":18.75,"y":0.155,"e":0.03},
{"s":"ΔoxcT","t":19,"y":0.156,"e":0.03},{"s":"ΔoxcT","t":19.25,"y":0.156,"e":0.03},{"s":"ΔoxcT","t":19.5,"y":0.157,"e":0.03},{"s":"ΔoxcT","t":19.75,"y":0.157,"e":0.03},
{"s":"ΔoxcT","t":20,"y":0.158,"e":0.03},{"s":"ΔoxcT","t":20.25,"y":0.158,"e":0.03},{"s":"ΔoxcT","t":20.5,"y":0.158,"e":0.03},{"s":"ΔoxcT","t":20.75,"y":0.159,"e":0.03},
{"s":"ΔoxcT","t":21,"y":0.159,"e":0.03},{"s":"ΔoxcT","t":21.25,"y":0.159,"e":0.03},{"s":"ΔoxcT","t":21.5,"y":0.159,"e":0.03},{"s":"ΔoxcT","t":21.75,"y":0.16,"e":0.03},
{"s":"ΔoxcT","t":22,"y":0.16,"e":0.03},{"s":"ΔoxcT","t":22.25,"y":0.16,"e":0.03},{"s":"ΔoxcT","t":22.5,"y":0.16,"e":0.03},{"s":"ΔoxcT","t":22.75,"y":0.16,"e":0.03},
{"s":"ΔoxcT","t":23,"y":0.16,"e":0.03},{"s":"ΔoxcT","t":23.25,"y":0.16,"e":0.03},{"s":"ΔoxcT","t":23.5,"y":0.16,"e":0.03},{"s":"ΔoxcT","t":23.75,"y":0.16,"e":0.03},
{"s":"ΔoxcT","t":24,"y":0.16,"e":0.03},
{"s":"ΔoxcT+","t":0,"y":0.025,"e":0.015},{"s":"ΔoxcT+","t":0.25,"y":0.035,"e":0.02},{"s":"ΔoxcT+","t":0.5,"y":0.025,"e":0.01},{"s":"ΔoxcT+","t":0.75,"y":0.027,"e":0.006},
{"s":"ΔoxcT+","t":1,"y":0.03,"e":0.006},{"s":"ΔoxcT+","t":1.25,"y":0.032,"e":0.006},{"s":"ΔoxcT+","t":1.5,"y":0.035,"e":0.006},{"s":"ΔoxcT+","t":1.75,"y":0.037,"e":0.006},
{"s":"ΔoxcT+","t":2,"y":0.04,"e":0.006},{"s":"ΔoxcT+","t":2.25,"y":0.043,"e":0.006},{"s":"ΔoxcT+","t":2.5,"y":0.047,"e":0.007},{"s":"ΔoxcT+","t":2.75,"y":0.051,"e":0.008},
{"s":"ΔoxcT+","t":3,"y":0.055,"e":0.009},{"s":"ΔoxcT+","t":3.25,"y":0.06,"e":0.01},{"s":"ΔoxcT+","t":3.5,"y":0.065,"e":0.011},{"s":"ΔoxcT+","t":3.75,"y":0.07,"e":0.012},
{"s":"ΔoxcT+","t":4,"y":0.076,"e":0.014},{"s":"ΔoxcT+","t":4.25,"y":0.083,"e":0.016},{"s":"ΔoxcT+","t":4.5,"y":0.09,"e":0.018},{"s":"ΔoxcT+","t":4.75,"y":0.098,"e":0.02},
{"s":"ΔoxcT+","t":5,"y":0.106,"e":0.022},{"s":"ΔoxcT+","t":5.25,"y":0.115,"e":0.025},{"s":"ΔoxcT+","t":5.5,"y":0.125,"e":0.028},{"s":"ΔoxcT+","t":5.75,"y":0.135,"e":0.03},
{"s":"ΔoxcT+","t":6,"y":0.146,"e":0.033},{"s":"ΔoxcT+","t":6.25,"y":0.157,"e":0.035},{"s":"ΔoxcT+","t":6.5,"y":0.168,"e":0.037},{"s":"ΔoxcT+","t":6.75,"y":0.179,"e":0.039},
{"s":"ΔoxcT+","t":7,"y":0.19,"e":0.04},{"s":"ΔoxcT+","t":7.25,"y":0.201,"e":0.042},{"s":"ΔoxcT+","t":7.5,"y":0.212,"e":0.043},{"s":"ΔoxcT+","t":7.75,"y":0.223,"e":0.044},
{"s":"ΔoxcT+","t":8,"y":0.233,"e":0.046},{"s":"ΔoxcT+","t":8.25,"y":0.242,"e":0.047},{"s":"ΔoxcT+","t":8.5,"y":0.25,"e":0.048},{"s":"ΔoxcT+","t":8.75,"y":0.258,"e":0.049},
{"s":"ΔoxcT+","t":9,"y":0.266,"e":0.05},{"s":"ΔoxcT+","t":9.25,"y":0.274,"e":0.051},{"s":"ΔoxcT+","t":9.5,"y":0.281,"e":0.052},{"s":"ΔoxcT+","t":9.75,"y":0.289,"e":0.053},
{"s":"ΔoxcT+","t":10,"y":0.296,"e":0.054},{"s":"ΔoxcT+","t":10.25,"y":0.303,"e":0.055},{"s":"ΔoxcT+","t":10.5,"y":0.309,"e":0.056},{"s":"ΔoxcT+","t":10.75,"y":0.316,"e":0.057},
{"s":"ΔoxcT+","t":11,"y":0.322,"e":0.058},{"s":"ΔoxcT+","t":11.25,"y":0.328,"e":0.059},{"s":"ΔoxcT+","t":11.5,"y":0.334,"e":0.06},{"s":"ΔoxcT+","t":11.75,"y":0.34,"e":0.061},
{"s":"ΔoxcT+","t":12,"y":0.345,"e":0.062},{"s":"ΔoxcT+","t":12.25,"y":0.35,"e":0.063},{"s":"ΔoxcT+","t":12.5,"y":0.355,"e":0.064},{"s":"ΔoxcT+","t":12.75,"y":0.36,"e":0.065},
{"s":"ΔoxcT+","t":13,"y":0.364,"e":0.066},{"s":"ΔoxcT+","t":13.25,"y":0.368,"e":0.067},{"s":"ΔoxcT+","t":13.5,"y":0.372,"e":0.068},{"s":"ΔoxcT+","t":13.75,"y":0.376,"e":0.068},
{"s":"ΔoxcT+","t":14,"y":0.38,"e":0.069},{"s":"ΔoxcT+","t":14.25,"y":0.384,"e":0.069},{"s":"ΔoxcT+","t":14.5,"y":0.387,"e":0.07},{"s":"ΔoxcT+","t":14.75,"y":0.391,"e":0.07},
{"s":"ΔoxcT+","t":15,"y":0.394,"e":0.07},{"s":"ΔoxcT+","t":15.25,"y":0.396,"e":0.071},{"s":"ΔoxcT+","t":15.5,"y":0.398,"e":0.071},{"s":"ΔoxcT+","t":15.75,"y":0.4,"e":0.072},
{"s":"ΔoxcT+","t":16,"y":0.402,"e":0.072},{"s":"ΔoxcT+","t":16.25,"y":0.403,"e":0.073},{"s":"ΔoxcT+","t":16.5,"y":0.405,"e":0.073},{"s":"ΔoxcT+","t":16.75,"y":0.406,"e":0.073},
{"s":"ΔoxcT+","t":17,"y":0.407,"e":0.073},{"s":"ΔoxcT+","t":17.25,"y":0.408,"e":0.073},{"s":"ΔoxcT+","t":17.5,"y":0.409,"e":0.073},{"s":"ΔoxcT+","t":17.75,"y":0.409,"e":0.073},
{"s":"ΔoxcT+","t":18,"y":0.41,"e":0.073},{"s":"ΔoxcT+","t":18.25,"y":0.41,"e":0.073},{"s":"ΔoxcT+","t":18.5,"y":0.411,"e":0.073},{"s":"ΔoxcT+","t":18.75,"y":0.411,"e":0.073},
{"s":"ΔoxcT+","t":19,"y":0.412,"e":0.073},{"s":"ΔoxcT+","t":19.25,"y":0.412,"e":0.072},{"s":"ΔoxcT+","t":19.5,"y":0.413,"e":0.072},{"s":"ΔoxcT+","t":19.75,"y":0.413,"e":0.071},
{"s":"ΔoxcT+","t":20,"y":0.414,"e":0.071},{"s":"ΔoxcT+","t":20.25,"y":0.414,"e":0.07},{"s":"ΔoxcT+","t":20.5,"y":0.414,"e":0.07},{"s":"ΔoxcT+","t":20.75,"y":0.415,"e":0.069},
{"s":"ΔoxcT+","t":21,"y":0.415,"e":0.069},{"s":"ΔoxcT+","t":21.25,"y":0.415,"e":0.069},{"s":"ΔoxcT+","t":21.5,"y":0.415,"e":0.068},{"s":"ΔoxcT+","t":21.75,"y":0.415,"e":0.068},
{"s":"ΔoxcT+","t":22,"y":0.415,"e":0.068},{"s":"ΔoxcT+","t":22.25,"y":0.415,"e":0.068},{"s":"ΔoxcT+","t":22.5,"y":0.415,"e":0.068},{"s":"ΔoxcT+","t":22.75,"y":0.415,"e":0.068},
{"s":"ΔoxcT+","t":23,"y":0.415,"e":0.067},{"s":"ΔoxcT+","t":23.25,"y":0.415,"e":0.067},{"s":"ΔoxcT+","t":23.5,"y":0.415,"e":0.067},{"s":"ΔoxcT+","t":23.75,"y":0.415,"e":0.067},
{"s":"ΔoxcT+","t":24,"y":0.415,"e":0.067}
],
"c200": [
{"s":"WT","t":0,"y":0.03,"e":0.02},{"s":"WT","t":0.25,"y":0.04,"e":0.02},{"s":"WT","t":0.5,"y":0.03,"e":0.005},{"s":"WT","t":0.75,"y":0.032,"e":0.005},
{"s":"WT","t":1,"y":0.034,"e":0.005},{"s":"WT","t":1.25,"y":0.036,"e":0.005},{"s":"WT","t":1.5,"y":0.037,"e":0.005},{"s":"WT","t":1.75,"y":0.039,"e":0.005},
{"s":"WT","t":2,"y":0.041,"e":0.006},{"s":"WT","t":2.25,"y":0.043,"e":0.007},{"s":"WT","t":2.5,"y":0.045,"e":0.008},{"s":"WT","t":2.75,"y":0.047,"e":0.009},
{"s":"WT","t":3,"y":0.049,"e":0.01},{"s":"WT","t":3.25,"y":0.051,"e":0.012},{"s":"WT","t":3.5,"y":0.053,"e":0.013},{"s":"WT","t":3.75,"y":0.055,"e":0.014},
{"s":"WT","t":4,"y":0.057,"e":0.015},{"s":"WT","t":4.25,"y":0.059,"e":0.017},{"s":"WT","t":4.5,"y":0.062,"e":0.018},{"s":"WT","t":4.75,"y":0.064,"e":0.019},
{"s":"WT","t":5,"y":0.066,"e":0.02},{"s":"WT","t":5.25,"y":0.068,"e":0.022},{"s":"WT","t":5.5,"y":0.07,"e":0.023},{"s":"WT","t":5.75,"y":0.072,"e":0.024},
{"s":"WT","t":6,"y":0.074,"e":0.025},{"s":"WT","t":6.25,"y":0.076,"e":0.027},{"s":"WT","t":6.5,"y":0.078,"e":0.029},{"s":"WT","t":6.75,"y":0.08,"e":0.031},
{"s":"WT","t":7,"y":0.082,"e":0.033},{"s":"WT","t":7.25,"y":0.084,"e":0.034},{"s":"WT","t":7.5,"y":0.086,"e":0.035},{"s":"WT","t":7.75,"y":0.088,"e":0.036},
{"s":"WT","t":8,"y":0.09,"e":0.038},{"s":"WT","t":8.25,"y":0.092,"e":0.04},{"s":"WT","t":8.5,"y":0.094,"e":0.042},{"s":"WT","t":8.75,"y":0.096,"e":0.043},
{"s":"WT","t":9,"y":0.098,"e":0.045},{"s":"WT","t":9.25,"y":0.1,"e":0.046},{"s":"WT","t":9.5,"y":0.102,"e":0.048},{"s":"WT","t":9.75,"y":0.103,"e":0.049},
{"s":"WT","t":10,"y":0.105,"e":0.05},{"s":"WT","t":10.25,"y":0.107,"e":0.052},{"s":"WT","t":10.5,"y":0.109,"e":0.053},{"s":"WT","t":10.75,"y":0.111,"e":0.054},
{"s":"WT","t":11,"y":0.113,"e":0.056},{"s":"WT","t":11.25,"y":0.115,"e":0.057},{"s":"WT","t":11.5,"y":0.117,"e":0.058},{"s":"WT","t":11.75,"y":0.118,"e":0.059},
{"s":"WT","t":12,"y":0.12,"e":0.06},{"s":"WT","t":12.25,"y":0.122,"e":0.061},{"s":"WT","t":12.5,"y":0.124,"e":0.063},{"s":"WT","t":12.75,"y":0.126,"e":0.064},
{"s":"WT","t":13,"y":0.128,"e":0.065},{"s":"WT","t":13.25,"y":0.13,"e":0.066},{"s":"WT","t":13.5,"y":0.132,"e":0.068},{"s":"WT","t":13.75,"y":0.135,"e":0.069},
{"s":"WT","t":14,"y":0.137,"e":0.07},{"s":"WT","t":14.25,"y":0.14,"e":0.071},{"s":"WT","t":14.5,"y":0.142,"e":0.072},{"s":"WT","t":14.75,"y":0.145,"e":0.074},
{"s":"WT","t":15,"y":0.148,"e":0.075},{"s":"WT","t":15.25,"y":0.15,"e":0.076},{"s":"WT","t":15.5,"y":0.153,"e":0.077},{"s":"WT","t":15.75,"y":0.155,"e":0.079},
{"s":"WT","t":16,"y":0.158,"e":0.08},{"s":"WT","t":16.25,"y":0.161,"e":0.081},{"s":"WT","t":16.5,"y":0.164,"e":0.083},{"s":"WT","t":16.75,"y":0.168,"e":0.084},
{"s":"WT","t":17,"y":0.171,"e":0.085},{"s":"WT","t":17.25,"y":0.175,"e":0.086},{"s":"WT","t":17.5,"y":0.178,"e":0.088},{"s":"WT","t":17.75,"y":0.182,"e":0.089},
{"s":"WT","t":18,"y":0.185,"e":0.09},{"s":"WT","t":18.25,"y":0.189,"e":0.091},{"s":"WT","t":18.5,"y":0.192,"e":0.093},{"s":"WT","t":18.75,"y":0.196,"e":0.094},
{"s":"WT","t":19,"y":0.199,"e":0.095},{"s":"WT","t":19.25,"y":0.202,"e":0.096},{"s":"WT","t":19.5,"y":0.206,"e":0.097},{"s":"WT","t":19.75,"y":0.209,"e":0.098},
{"s":"WT","t":20,"y":0.212,"e":0.099},{"s":"WT","t":20.25,"y":0.215,"e":0.1},{"s":"WT","t":20.5,"y":0.217,"e":0.101},{"s":"WT","t":20.75,"y":0.22,"e":0.102},
{"s":"WT","t":21,"y":0.222,"e":0.103},{"s":"WT","t":21.25,"y":0.225,"e":0.104},{"s":"WT","t":21.5,"y":0.227,"e":0.104},{"s":"WT","t":21.75,"y":0.23,"e":0.105},
{"s":"WT","t":22,"y":0.232,"e":0.106},{"s":"WT","t":22.25,"y":0.235,"e":0.106},{"s":"WT","t":22.5,"y":0.237,"e":0.107},{"s":"WT","t":22.75,"y":0.24,"e":0.108},
{"s":"WT","t":23,"y":0.242,"e":0.108},{"s":"WT","t":23.25,"y":0.244,"e":0.109},{"s":"WT","t":23.5,"y":0.247,"e":0.11},{"s":"WT","t":23.75,"y":0.249,"e":0.11},
{"s":"WT","t":24,"y":0.251,"e":0.111},
{"s":"ΔoxcT","t":0,"y":0.035,"e":0.02},{"s":"ΔoxcT","t":0.25,"y":0.04,"e":0.02},{"s":"ΔoxcT","t":0.5,"y":0.032,"e":0.005},{"s":"ΔoxcT","t":0.75,"y":0.033,"e":0.005},
{"s":"ΔoxcT","t":1,"y":0.035,"e":0.005},{"s":"ΔoxcT","t":1.25,"y":0.037,"e":0.005},{"s":"ΔoxcT","t":1.5,"y":0.038,"e":0.005},{"s":"ΔoxcT","t":1.75,"y":0.04,"e":0.005},
{"s":"ΔoxcT","t":2,"y":0.042,"e":0.005},{"s":"ΔoxcT","t":2.25,"y":0.044,"e":0.005},{"s":"ΔoxcT","t":2.5,"y":0.046,"e":0.005},{"s":"ΔoxcT","t":2.75,"y":0.048,"e":0.005},
{"s":"ΔoxcT","t":3,"y":0.05,"e":0.006},{"s":"ΔoxcT","t":3.25,"y":0.052,"e":0.007},{"s":"ΔoxcT","t":3.5,"y":0.054,"e":0.008},{"s":"ΔoxcT","t":3.75,"y":0.055,"e":0.009},
{"s":"ΔoxcT","t":4,"y":0.057,"e":0.01},{"s":"ΔoxcT","t":4.25,"y":0.059,"e":0.011},{"s":"ΔoxcT","t":4.5,"y":0.061,"e":0.012},{"s":"ΔoxcT","t":4.75,"y":0.063,"e":0.014},
{"s":"ΔoxcT","t":5,"y":0.065,"e":0.016},{"s":"ΔoxcT","t":5.25,"y":0.067,"e":0.018},{"s":"ΔoxcT","t":5.5,"y":0.069,"e":0.02},{"s":"ΔoxcT","t":5.75,"y":0.07,"e":0.022},
{"s":"ΔoxcT","t":6,"y":0.072,"e":0.024},{"s":"ΔoxcT","t":6.25,"y":0.074,"e":0.026},{"s":"ΔoxcT","t":6.5,"y":0.075,"e":0.028},{"s":"ΔoxcT","t":6.75,"y":0.077,"e":0.03},
{"s":"ΔoxcT","t":7,"y":0.078,"e":0.032},{"s":"ΔoxcT","t":7.25,"y":0.08,"e":0.034},{"s":"ΔoxcT","t":7.5,"y":0.081,"e":0.036},{"s":"ΔoxcT","t":7.75,"y":0.083,"e":0.038},
{"s":"ΔoxcT","t":8,"y":0.084,"e":0.04},{"s":"ΔoxcT","t":8.25,"y":0.085,"e":0.04},{"s":"ΔoxcT","t":8.5,"y":0.087,"e":0.04},{"s":"ΔoxcT","t":8.75,"y":0.088,"e":0.039},
{"s":"ΔoxcT","t":9,"y":0.089,"e":0.037},{"s":"ΔoxcT","t":9.25,"y":0.09,"e":0.035},{"s":"ΔoxcT","t":9.5,"y":0.092,"e":0.033},{"s":"ΔoxcT","t":9.75,"y":0.093,"e":0.031},
{"s":"ΔoxcT","t":10,"y":0.094,"e":0.029},{"s":"ΔoxcT","t":10.25,"y":0.095,"e":0.027},{"s":"ΔoxcT","t":10.5,"y":0.096,"e":0.025},{"s":"ΔoxcT","t":10.75,"y":0.096,"e":0.023},
{"s":"ΔoxcT","t":11,"y":0.097,"e":0.021},{"s":"ΔoxcT","t":11.25,"y":0.098,"e":0.019},{"s":"ΔoxcT","t":11.5,"y":0.099,"e":0.017},{"s":"ΔoxcT","t":11.75,"y":0.099,"e":0.015},
{"s":"ΔoxcT","t":12,"y":0.1,"e":0.013},{"s":"ΔoxcT","t":12.25,"y":0.1,"e":0.012},{"s":"ΔoxcT","t":12.5,"y":0.101,"e":0.011},{"s":"ΔoxcT","t":12.75,"y":0.101,"e":0.01},
{"s":"ΔoxcT","t":13,"y":0.102,"e":0.01},{"s":"ΔoxcT","t":13.25,"y":0.102,"e":0.01},{"s":"ΔoxcT","t":13.5,"y":0.103,"e":0.01},{"s":"ΔoxcT","t":13.75,"y":0.103,"e":0.01},
{"s":"ΔoxcT","t":14,"y":0.104,"e":0.01},{"s":"ΔoxcT","t":14.25,"y":0.104,"e":0.01},{"s":"ΔoxcT","t":14.5,"y":0.105,"e":0.01},{"s":"ΔoxcT","t":14.75,"y":0.105,"e":0.01},
{"s":"ΔoxcT","t":15,"y":0.106,"e":0.01},{"s":"ΔoxcT","t":15.25,"y":0.106,"e":0.01},{"s":"ΔoxcT","t":15.5,"y":0.107,"e":0.01},{"s":"ΔoxcT","t":15.75,"y":0.107,"e":0.01},
{"s":"ΔoxcT","t":16,"y":0.108,"e":0.01},{"s":"ΔoxcT","t":16.25,"y":0.108,"e":0.01},{"s":"ΔoxcT","t":16.5,"y":0.109,"e":0.01},{"s":"ΔoxcT","t":16.75,"y":0.109,"e":0.01},
{"s":"ΔoxcT","t":17,"y":0.11,"e":0.01},{"s":"ΔoxcT","t":17.25,"y":0.11,"e":0.01},{"s":"ΔoxcT","t":17.5,"y":0.11,"e":0.01},{"s":"ΔoxcT","t":17.75,"y":0.111,"e":0.01},
{"s":"ΔoxcT","t":18,"y":0.111,"e":0.01},{"s":"ΔoxcT","t":18.25,"y":0.111,"e":0.01},{"s":"ΔoxcT","t":18.5,"y":0.112,"e":0.01},{"s":"ΔoxcT","t":18.75,"y":0.112,"e":0.01},
{"s":"ΔoxcT","t":19,"y":0.113,"e":0.01},{"s":"ΔoxcT","t":19.25,"y":0.113,"e":0.01},{"s":"ΔoxcT","t":19.5,"y":0.114,"e":0.01},{"s":"ΔoxcT","t":19.75,"y":0.114,"e":0.01},
{"s":"ΔoxcT","t":20,"y":0.115,"e":0.01},{"s":"ΔoxcT","t":20.25,"y":0.115,"e":0.01},{"s":"ΔoxcT","t":20.5,"y":0.115,"e":0.01},{"s":"ΔoxcT","t":20.75,"y":0.116,"e":0.01},
{"s":"ΔoxcT","t":21,"y":0.116,"e":0.01},{"s":"ΔoxcT","t":21.25,"y":0.116,"e":0.01},{"s":"ΔoxcT","t":21.5,"y":0.117,"e":0.01},{"s":"ΔoxcT","t":21.75,"y":0.117,"e":0.01},
{"s":"ΔoxcT","t":22,"y":0.118,"e":0.01},{"s":"ΔoxcT","t":22.25,"y":0.118,"e":0.01},{"s":"ΔoxcT","t":22.5,"y":0.118,"e":0.01},{"s":"ΔoxcT","t":22.75,"y":0.119,"e":0.01},
{"s":"ΔoxcT","t":23,"y":0.119,"e":0.01},{"s":"ΔoxcT","t":23.25,"y":0.119,"e":0.01},{"s":"ΔoxcT","t":23.5,"y":0.119,"e":0.01},{"s":"ΔoxcT","t":23.75,"y":0.12,"e":0.01},
{"s":"ΔoxcT","t":24,"y":0.12,"e":0.01},
{"s":"ΔoxcT+","t":0,"y":0.025,"e":0.015},{"s":"ΔoxcT+","t":0.25,"y":0.035,"e":0.02},{"s":"ΔoxcT+","t":0.5,"y":0.028,"e":0.006},{"s":"ΔoxcT+","t":0.75,"y":0.03,"e":0.006},
{"s":"ΔoxcT+","t":1,"y":0.033,"e":0.006},{"s":"ΔoxcT+","t":1.25,"y":0.034,"e":0.006},{"s":"ΔoxcT+","t":1.5,"y":0.036,"e":0.006},{"s":"ΔoxcT+","t":1.75,"y":0.038,"e":0.006},
{"s":"ΔoxcT+","t":2,"y":0.04,"e":0.007},{"s":"ΔoxcT+","t":2.25,"y":0.042,"e":0.008},{"s":"ΔoxcT+","t":2.5,"y":0.045,"e":0.009},{"s":"ΔoxcT+","t":2.75,"y":0.047,"e":0.01},
{"s":"ΔoxcT+","t":3,"y":0.05,"e":0.012},{"s":"ΔoxcT+","t":3.25,"y":0.054,"e":0.015},{"s":"ΔoxcT+","t":3.5,"y":0.058,"e":0.018},{"s":"ΔoxcT+","t":3.75,"y":0.062,"e":0.021},
{"s":"ΔoxcT+","t":4,"y":0.066,"e":0.024},{"s":"ΔoxcT+","t":4.25,"y":0.071,"e":0.027},{"s":"ΔoxcT+","t":4.5,"y":0.077,"e":0.03},{"s":"ΔoxcT+","t":4.75,"y":0.083,"e":0.033},
{"s":"ΔoxcT+","t":5,"y":0.09,"e":0.036},{"s":"ΔoxcT+","t":5.25,"y":0.096,"e":0.038},{"s":"ΔoxcT+","t":5.5,"y":0.102,"e":0.04},{"s":"ΔoxcT+","t":5.75,"y":0.107,"e":0.042},
{"s":"ΔoxcT+","t":6,"y":0.113,"e":0.044},{"s":"ΔoxcT+","t":6.25,"y":0.119,"e":0.046},{"s":"ΔoxcT+","t":6.5,"y":0.125,"e":0.048},{"s":"ΔoxcT+","t":6.75,"y":0.132,"e":0.05},
{"s":"ΔoxcT+","t":7,"y":0.138,"e":0.052},{"s":"ΔoxcT+","t":7.25,"y":0.144,"e":0.053},{"s":"ΔoxcT+","t":7.5,"y":0.15,"e":0.054},{"s":"ΔoxcT+","t":7.75,"y":0.157,"e":0.055},
{"s":"ΔoxcT+","t":8,"y":0.163,"e":0.055},{"s":"ΔoxcT+","t":8.25,"y":0.17,"e":0.055},{"s":"ΔoxcT+","t":8.5,"y":0.176,"e":0.055},{"s":"ΔoxcT+","t":8.75,"y":0.183,"e":0.055},
{"s":"ΔoxcT+","t":9,"y":0.19,"e":0.055},{"s":"ΔoxcT+","t":9.25,"y":0.196,"e":0.055},{"s":"ΔoxcT+","t":9.5,"y":0.203,"e":0.055},{"s":"ΔoxcT+","t":9.75,"y":0.209,"e":0.055},
{"s":"ΔoxcT+","t":10,"y":0.215,"e":0.055},{"s":"ΔoxcT+","t":10.25,"y":0.221,"e":0.055},{"s":"ΔoxcT+","t":10.5,"y":0.228,"e":0.055},{"s":"ΔoxcT+","t":10.75,"y":0.234,"e":0.055},
{"s":"ΔoxcT+","t":11,"y":0.24,"e":0.055},{"s":"ΔoxcT+","t":11.25,"y":0.246,"e":0.055},{"s":"ΔoxcT+","t":11.5,"y":0.252,"e":0.055},{"s":"ΔoxcT+","t":11.75,"y":0.257,"e":0.055},
{"s":"ΔoxcT+","t":12,"y":0.263,"e":0.055},{"s":"ΔoxcT+","t":12.25,"y":0.269,"e":0.055},{"s":"ΔoxcT+","t":12.5,"y":0.275,"e":0.055},{"s":"ΔoxcT+","t":12.75,"y":0.28,"e":0.054},
{"s":"ΔoxcT+","t":13,"y":0.286,"e":0.054},{"s":"ΔoxcT+","t":13.25,"y":0.292,"e":0.053},{"s":"ΔoxcT+","t":13.5,"y":0.298,"e":0.053},{"s":"ΔoxcT+","t":13.75,"y":0.304,"e":0.052},
{"s":"ΔoxcT+","t":14,"y":0.31,"e":0.052},{"s":"ΔoxcT+","t":14.25,"y":0.315,"e":0.051},{"s":"ΔoxcT+","t":14.5,"y":0.32,"e":0.051},{"s":"ΔoxcT+","t":14.75,"y":0.325,"e":0.05},
{"s":"ΔoxcT+","t":15,"y":0.33,"e":0.05},{"s":"ΔoxcT+","t":15.25,"y":0.334,"e":0.05},{"s":"ΔoxcT+","t":15.5,"y":0.339,"e":0.049},{"s":"ΔoxcT+","t":15.75,"y":0.343,"e":0.049},
{"s":"ΔoxcT+","t":16,"y":0.347,"e":0.048},{"s":"ΔoxcT+","t":16.25,"y":0.351,"e":0.048},{"s":"ΔoxcT+","t":16.5,"y":0.354,"e":0.047},{"s":"ΔoxcT+","t":16.75,"y":0.358,"e":0.047},
{"s":"ΔoxcT+","t":17,"y":0.361,"e":0.046},{"s":"ΔoxcT+","t":17.25,"y":0.364,"e":0.046},{"s":"ΔoxcT+","t":17.5,"y":0.367,"e":0.045},{"s":"ΔoxcT+","t":17.75,"y":0.37,"e":0.045},
{"s":"ΔoxcT+","t":18,"y":0.373,"e":0.045},{"s":"ΔoxcT+","t":18.25,"y":0.376,"e":0.044},{"s":"ΔoxcT+","t":18.5,"y":0.378,"e":0.044},{"s":"ΔoxcT+","t":18.75,"y":0.381,"e":0.044},
{"s":"ΔoxcT+","t":19,"y":0.383,"e":0.043},{"s":"ΔoxcT+","t":19.25,"y":0.385,"e":0.043},{"s":"ΔoxcT+","t":19.5,"y":0.387,"e":0.043},{"s":"ΔoxcT+","t":19.75,"y":0.389,"e":0.043},
{"s":"ΔoxcT+","t":20,"y":0.39,"e":0.042},{"s":"ΔoxcT+","t":20.25,"y":0.391,"e":0.042},{"s":"ΔoxcT+","t":20.5,"y":0.392,"e":0.042},{"s":"ΔoxcT+","t":20.75,"y":0.393,"e":0.042},
{"s":"ΔoxcT+","t":21,"y":0.394,"e":0.042},{"s":"ΔoxcT+","t":21.25,"y":0.394,"e":0.042},{"s":"ΔoxcT+","t":21.5,"y":0.395,"e":0.042},{"s":"ΔoxcT+","t":21.75,"y":0.395,"e":0.042},
{"s":"ΔoxcT+","t":22,"y":0.396,"e":0.042},{"s":"ΔoxcT+","t":22.25,"y":0.396,"e":0.042},{"s":"ΔoxcT+","t":22.5,"y":0.396,"e":0.042},{"s":"ΔoxcT+","t":22.75,"y":0.397,"e":0.042},
{"s":"ΔoxcT+","t":23,"y":0.397,"e":0.042},{"s":"ΔoxcT+","t":23.25,"y":0.397,"e":0.043},{"s":"ΔoxcT+","t":23.5,"y":0.398,"e":0.043},{"s":"ΔoxcT+","t":23.75,"y":0.398,"e":0.043},
{"s":"ΔoxcT+","t":24,"y":0.398,"e":0.043}
]
},
"resolve": {"scale": {"color": "independent"}, "legend": {"color": "independent"}},
"columns": 2,
"spacing": {"row": 44, "column": 49},
"concat": [
 {
  "title": {"text": "PYE", "offset": 27, "dx": -19},
  "width": 496, "height": 222,
  "data": {"name": "pye"},
  "encoding": {
   "x": {"field": "t", "type": "quantitative", "scale": {"domain": [0, 25], "nice": false}, "axis": {"values": [0, 5, 10, 15, 20, 25], "title": "Time (h)"}},
   "y": {"field": "y", "type": "quantitative", "scale": {"domain": [0, 0.6], "nice": false}, "axis": {"values": [0, 0.1, 0.2, 0.3, 0.4, 0.5, 0.6], "format": ".1~f", "title": "O.D. 660nm", "titlePadding": 11.5}},
   "color": {"field": "s", "type": "nominal", "scale": {"domain": ["WT", "ΔoxcT", "ΔoxcT+"], "range": ["#4472C4", "#A5A5A5", "#FFC000"]}, "legend": {"title": null, "legendX": 113, "legendY": 284}}
  },
  "layer": [
   {"mark": {"type": "errorbar", "ticks": false, "thickness": 1, "opacity": 0.5}, "encoding": {"yError": {"field": "e"}}},
   {"mark": {"type": "line", "strokeWidth": 3.5, "strokeCap": "round", "strokeJoin": "round"}}
  ]
 },
 {
  "title": {"text": "CuSO₄ 100 µM", "offset": 25, "dx": -25.5},
  "width": 494, "height": 221,
  "data": {"name": "c100"},
  "encoding": {
   "x": {"field": "t", "type": "quantitative", "scale": {"domain": [0, 25], "nice": false}, "axis": {"values": [0, 5, 10, 15, 20, 25], "title": "Time (h)"}},
   "y": {"field": "y", "type": "quantitative", "scale": {"domain": [0, 0.6], "nice": false}, "axis": {"values": [0, 0.1, 0.2, 0.3, 0.4, 0.5, 0.6], "format": ".1~f", "title": "O.D. 660 nm"}},
   "color": {"field": "s", "type": "nominal", "scale": {"domain": ["WT", "ΔoxcT", "ΔoxcT+"], "range": ["#4472C4", "#A5A5A5", "#FFC000"]}, "legend": {"title": null, "legendX": 108, "legendY": 286}}
  },
  "layer": [
   {"mark": {"type": "errorbar", "ticks": false, "thickness": 1, "opacity": 0.5}, "encoding": {"yError": {"field": "e"}}},
   {"mark": {"type": "line", "strokeWidth": 3.5, "strokeCap": "round", "strokeJoin": "round"}}
  ]
 },
 {
  "title": {"text": "CuSO₄ 150 µM", "offset": 26, "dx": -8},
  "width": 496, "height": 220,
  "data": {"name": "c150"},
  "encoding": {
   "x": {"field": "t", "type": "quantitative", "scale": {"domain": [0, 25], "nice": false}, "axis": {"values": [0, 5, 10, 15, 20, 25], "title": "Time (h)"}},
   "y": {"field": "y", "type": "quantitative", "scale": {"domain": [0, 0.6], "nice": false}, "axis": {"values": [0, 0.1, 0.2, 0.3, 0.4, 0.5, 0.6], "format": ".1~f", "title": "O.D. 660 nm", "titlePadding": 0}},
   "color": {"field": "s", "type": "nominal", "scale": {"domain": ["WT", "ΔoxcT", "ΔoxcT+"], "range": ["#4472C4", "#A5A5A5", "#FFC000"]}, "legend": {"title": null, "legendX": 126, "legendY": 277}}
  },
  "layer": [
   {"mark": {"type": "errorbar", "ticks": false, "thickness": 1, "opacity": 0.5}, "encoding": {"yError": {"field": "e"}}},
   {"mark": {"type": "line", "strokeWidth": 3.5, "strokeCap": "round", "strokeJoin": "round"}}
  ]
 },
 {
  "title": {"text": "CuSO₄ 200 µM", "offset": 29, "dx": -21},
  "width": 492, "height": 210,
  "data": {"name": "c200"},
  "encoding": {
   "x": {"field": "t", "type": "quantitative", "scale": {"domain": [0, 25], "nice": false}, "axis": {"values": [0, 5, 10, 15, 20, 25], "title": "Time (h)"}},
   "y": {"field": "y", "type": "quantitative", "scale": {"domain": [0, 0.6], "nice": false}, "axis": {"values": [0, 0.1, 0.2, 0.3, 0.4, 0.5, 0.6], "format": ".1~f", "title": "O.D. 660 nm"}},
   "color": {"field": "s", "type": "nominal", "scale": {"domain": ["WT", "ΔoxcT", "ΔoxcT+"], "range": ["#4472C4", "#A5A5A5", "#FFD966"]}, "legend": {"title": null, "legendX": 110, "legendY": 280}}
  },
  "layer": [
   {"mark": {"type": "errorbar", "ticks": false, "thickness": 1, "opacity": 0.5}, "encoding": {"yError": {"field": "e"}}},
   {"mark": {"type": "line", "strokeWidth": 3.5, "strokeCap": "round", "strokeJoin": "round"}}
  ]
 }
]
}
